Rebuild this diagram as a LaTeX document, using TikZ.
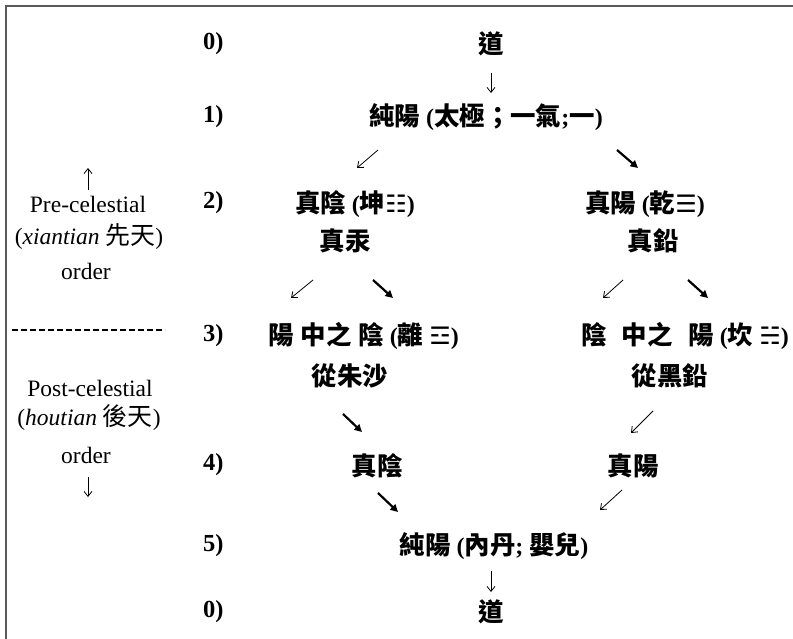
\documentclass[tikz,border=0pt]{standalone}
\usepackage{fontspec}
\setmainfont{Liberation Serif}
\newfontfamily\cjk{Noto Sans CJK TC}[Scale=1.06]
\newfontfamily\symf{DejaVu Sans}
\usetikzlibrary{arrows.meta}
\newcommand\zht[1]{{\cjk #1}}
\newcommand\tri[1]{{\symf\mdseries #1}}
\definecolor{framegray}{HTML}{5A5A5A}
\begin{document}
\begin{tikzpicture}[x=1pt,y=-1pt,
  frame/.style={draw=framegray,line width=2pt},
  lbl/.style={font=\fontsize{24.5}{28}\selectfont\bfseries,inner sep=0pt,anchor=west},
  zh/.style={font=\fontsize{24}{28}\selectfont\bfseries,inner sep=0pt},
  side/.style={font=\fontsize{23.5}{28}\selectfont,inner sep=0pt},
  thinarr/.style={-{Straight Barb[length=5pt,width=8pt]},line width=0.8pt},
  boldarr/.style={-{Triangle[length=7.5pt,width=7.5pt]},line width=2.2pt},
  sep/.style={dash pattern=on 6pt off 3pt,line width=1.5pt}]
\useasboundingbox (0,0) rectangle (793,639);
\fill[white] (0,0) rectangle (793,639);
\draw[frame] (5.5,639) -- (5.5,6) -- (793,6);

% step labels
\node[lbl] (l0) at (203,44) {0)};
\node[lbl] (l1) at (203,117) {1)};
\node[lbl] (l2) at (203,203) {2)};
\node[lbl] (l3) at (203,336) {3)};
\node[lbl] (l4) at (203,465) {4)};
\node[lbl] (l5) at (203,546) {5)};
\node[lbl] (l6) at (203,612) {0)};

% main column
\node[zh] (dao) at (491,44) {\zht{道}};
\node[zh] (cy) at (486,117) {\zht{純陽} (\zht{太極；}\zht{一氣};\zht{一})};
\node[zh] (zy) at (355,204) {\zht{真陰} (\zht{坤}\tri{☷})};
\node[zh] (zg) at (345,241) {\zht{真汞}};
\node[zh] (zyang) at (645,204) {\zht{真陽} (\zht{乾}\tri{☰})};
\node[zh] (zq) at (653,241) {\zht{真鉛}};
\node[zh,anchor=west] (yzy) at (268,336) {\zht{陽}\hspace{7pt}\zht{中之}\hspace{7pt}\zht{陰} (\zht{離} \tri{☲})};
\node[zh,anchor=west] (yzyang) at (581,336) {\zht{陰}\hspace{15pt}\zht{中之}\hspace{16pt}\zht{陽} (\zht{坎} \tri{☵})};
\node[zh] (czs) at (350,376) {\zht{從朱沙}};
\node[zh] (chq) at (670,376) {\zht{從黑鉛}};
\node[zh] (zy4) at (377,466) {\zht{真陰}};
\node[zh] (zyang4) at (633,466) {\zht{真陽}};
\node[zh] (cy5) at (494,546) {\zht{純陽} (\zht{內丹}; \zht{嬰兒})};
\node[zh] (dao2) at (491,612) {\zht{道}};

% side text
\node[side] (pre) at (88,204) {Pre-celestial};
\node[side] (xt) at (89,237) {(\textit{xiantian} \zht{先天})};
\node[side] (ord1) at (86,271) {order};
\node[side] (post) at (90,388) {Post-celestial};
\node[side] (ht) at (89,418) {(\textit{houtian} \zht{後天})};
\node[side] (ord2) at (86,455) {order};
\draw[sep] (12,330) coordinate (ds) -- (165,330) coordinate (de);

% arrows
\draw[thinarr] (491,73) coordinate (a0s) -- (491,93) coordinate (a0e);
\draw[thinarr] (378,150) coordinate (a1s) -- (357,168) coordinate (a1e);
\draw[boldarr] (617,150) coordinate (a2s) -- (638,168) coordinate (a2e);
\draw[thinarr] (88,190) coordinate (u1s) -- (88,168) coordinate (u1e);
\draw[thinarr] (313,280) coordinate (b1s) -- (291,298) coordinate (b1e);
\draw[boldarr] (373,280) coordinate (b2s) -- (393,298) coordinate (b2e);
\draw[thinarr] (623,280) coordinate (b3s) -- (603,298) coordinate (b3e);
\draw[boldarr] (688,280) coordinate (b4s) -- (708,298) coordinate (b4e);
\draw[boldarr] (343,414) coordinate (c1s) -- (362,432) coordinate (c1e);
\draw[thinarr] (653,411) coordinate (c2s) -- (631,433) coordinate (c2e);
\draw[thinarr] (88,477) coordinate (u2s) -- (88,497) coordinate (u2e);
\draw[boldarr] (378,493) coordinate (d1s) -- (398,512) coordinate (d1e);
\draw[thinarr] (622,490) coordinate (d2s) -- (600,510) coordinate (d2e);
\draw[thinarr] (491,571) coordinate (e0s) -- (491,592) coordinate (e0e);
\end{tikzpicture}
\end{document}
